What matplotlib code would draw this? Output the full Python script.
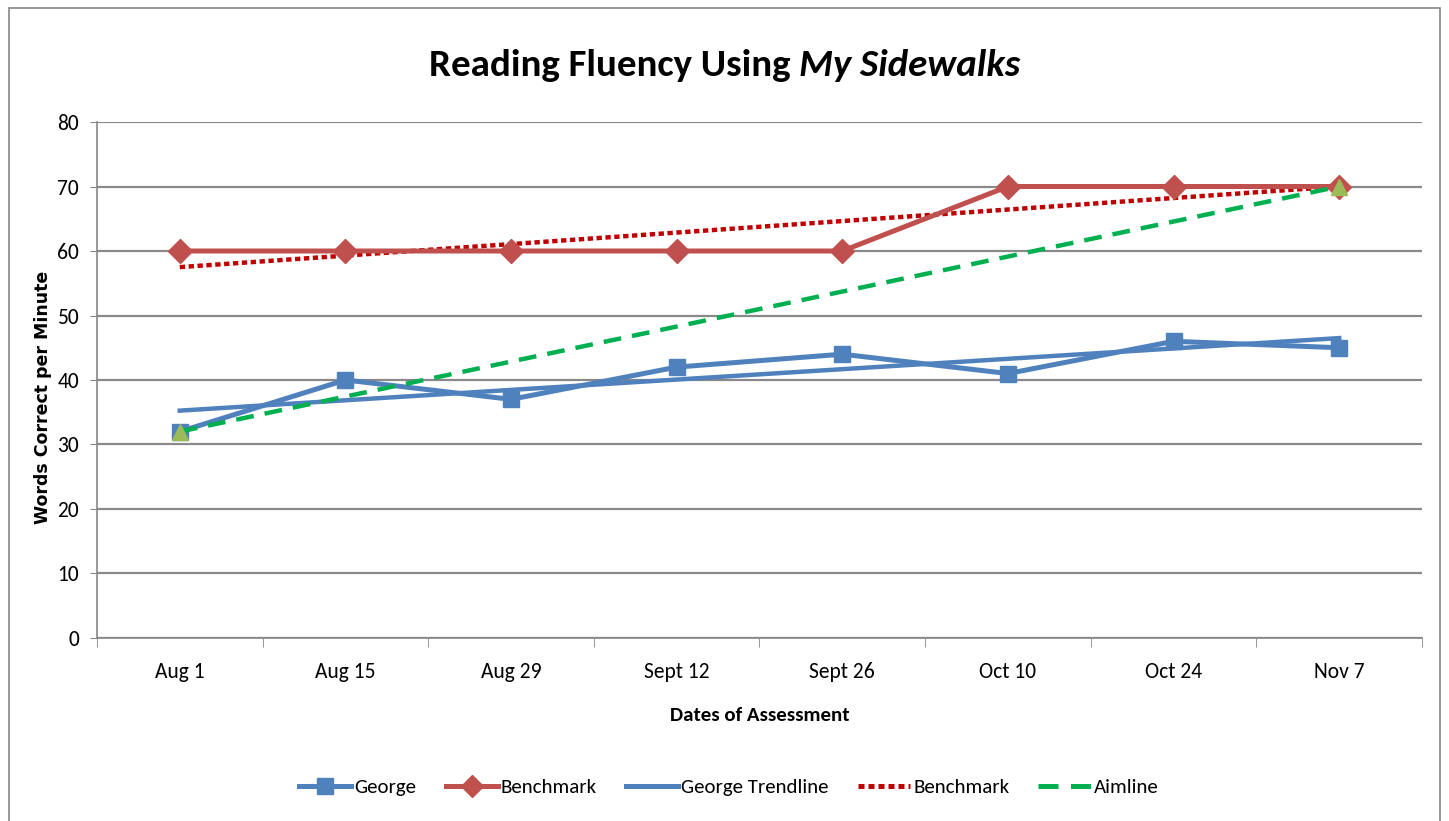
import numpy as np
import matplotlib
matplotlib.use("Agg")
import matplotlib.pyplot as plt
from matplotlib.patches import Rectangle
from matplotlib.lines import Line2D

dates = ["Aug 1", "Aug 15", "Aug 29", "Sept 12", "Sept 26", "Oct 10", "Oct 24", "Nov 7"]
george = [32, 40, 37, 42, 44, 41, 46, 45]
benchmark = [60, 60, 60, 60, 60, 70, 70, 70]
aim_start = 32
aim_end = 70

plt.rcParams["font.family"] = ["Carlito", "DejaVu Sans"]

fig = plt.figure(figsize=(14.49, 8.21), dpi=100)
ax = fig.add_axes([0.0669, 0.2229, 0.9145, 0.6285])

x = np.arange(len(dates))

# trendlines (linear fits, like the spreadsheet does)
g_fit = np.polyfit(x, george, 1)
b_fit = np.polyfit(x, benchmark, 1)

blue = "#4F81BD"
red = "#C0504D"

ax.plot(x, benchmark, color=red, lw=3.6, marker="D", ms=12, zorder=4)
ax.plot(x, george, color=blue, lw=3.6, marker="s", ms=11, zorder=5)
ax.plot(x, np.polyval(g_fit, x), color=blue, lw=3.2, zorder=3)
ax.plot(x, np.polyval(b_fit, x), color="#C00000", lw=3.2, ls=(0, (1.2, 0.8)), zorder=3)
ax.plot([x[0], x[-1]], [aim_start, aim_end], color="#00B050", lw=3.2,
        ls=(0, (4, 2.5)), zorder=6)
ax.plot([x[0], x[-1]], [aim_start, aim_end], ls="none", marker="^", ms=11,
        color="#9BBB59", zorder=6)

ax.set_xlim(-0.5, 7.5)
ax.set_ylim(0, 80)
ax.set_yticks(range(0, 81, 10))
ax.set_xticks(x)
ax.set_xticklabels(dates, fontsize=15.5)
ax.set_xticks(np.arange(-0.5, 8, 1), minor=True)
ax.tick_params(axis="x", which="major", length=0, pad=17)
ax.tick_params(axis="x", which="minor", length=6.5, color="#868686")
ax.tick_params(axis="y", length=5, color="#868686", labelsize=15.5, pad=8)
ax.grid(axis="y", color="#898989", lw=1.6)
ax.set_axisbelow(True)
for s in ["top", "right"]:
    ax.spines[s].set_visible(False)
for s in ["left", "bottom"]:
    ax.spines[s].set_color("#868686")
    ax.spines[s].set_linewidth(1.2)

ax.set_xlabel("Dates of Assessment", fontsize=15, fontweight="bold")
ax.xaxis.set_label_coords(0.5, -0.134)
ax.set_ylabel("Words Correct per Minute", fontsize=12.5, fontweight="bold",
              family="DejaVu Sans")
ax.yaxis.set_label_coords(-0.034, 0.467)

# title with an italic part
fig.canvas.draw()
r = fig.canvas.get_renderer()
t1 = fig.text(0, 0.92, "Reading Fluency Using ", fontsize=28, fontweight="bold",
              va="center")
t2 = fig.text(0, 0.92, "My Sidewalks", fontsize=28, fontweight="bold",
              style="italic", va="center")
w1 = t1.get_window_extent(r).width
w2 = t2.get_window_extent(r).width
start = (fig.bbox.width - w1 - w2) / 2
t1.set_x(start / fig.bbox.width)
t2.set_x((start + w1) / fig.bbox.width)

handles = [
    Line2D([], [], color=blue, lw=3.6, marker="s", ms=11),
    Line2D([], [], color=red, lw=3.6, marker="D", ms=11),
    Line2D([], [], color=blue, lw=3.6),
    Line2D([], [], color="#C00000", lw=3.6, ls=(0, (1.2, 0.8))),
    Line2D([], [], color="#00B050", lw=3.6, ls=(0, (4, 2.5))),
]
labels = ["George", "Benchmark", "George Trendline", "Benchmark", "Aimline"]
fig.legend(handles, labels, loc="center", bbox_to_anchor=(0.503, 0.041), ncol=5,
           frameon=False, fontsize=15, handlelength=2.5, handletextpad=0.15,
           columnspacing=1.4)

fig.patches.append(Rectangle((0.006, -0.01), 0.988, 1.0, transform=fig.transFigure,
                             fill=False, edgecolor="#868686", lw=1.2))

fig.savefig("out.png", dpi=100)
